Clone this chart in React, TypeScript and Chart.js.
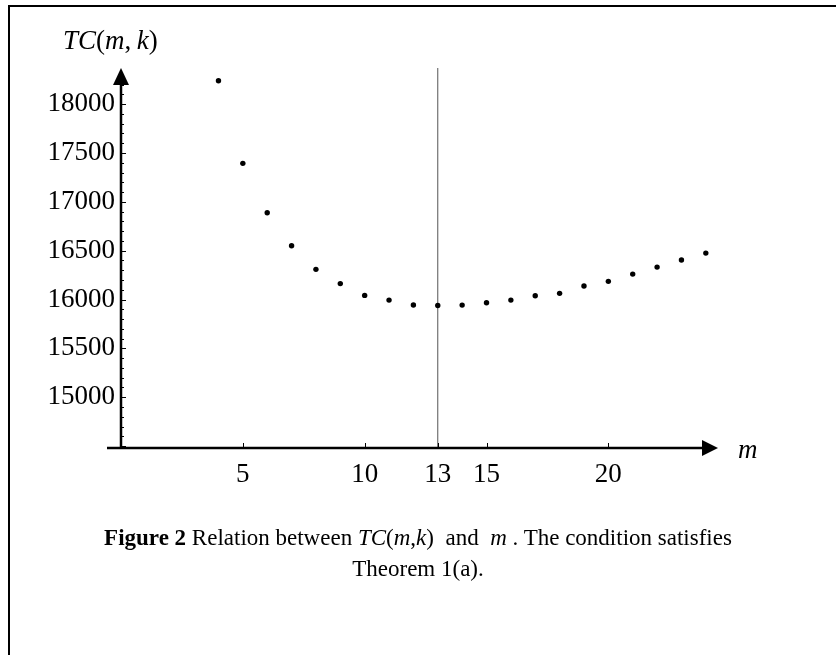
import React, { useEffect, useRef } from 'react';
import { Chart, registerables } from 'chart.js';

Chart.register(...registerables);

// ---- data ----
const mValues = [4, 5, 6, 7, 8, 9, 10, 11, 12, 13, 14, 15, 16, 17, 18, 19, 20, 21, 22, 23, 24];
const tcValues = [18239, 17394, 16888, 16550, 16309, 16163, 16042, 15994, 15944, 15938, 15943, 15967, 15994, 16038, 16063, 16138, 16186, 16260, 16332, 16404, 16475];
const xTickValues = [5, 10, 13, 15, 20];
const yTickValues = [15000, 15500, 16000, 16500, 17000, 17500, 18000];
const optimalM = 13;
const xRange = [0, 24.5];
const yRange = [14480, 18370];
const yMinorStep = 100;
const yMajorStep = 500;

const FONT = '"Liberation Serif", "Times New Roman", serif';

const axesPlugin = {
  id: 'mathAxes',
  afterDraw(chart: any) {
    const { ctx, chartArea } = chart;
    const { left, right, top, bottom } = chartArea;
    const xs = chart.scales.x;
    const ys = chart.scales.y;
    const x0 = xs.getPixelForValue(0);
    ctx.save();
    ctx.strokeStyle = '#000';
    ctx.fillStyle = '#000';
    // minor / major ticks on y axis (inside)
    ctx.lineWidth = 1;
    ctx.beginPath();
    const start = Math.ceil(yRange[0] / yMinorStep) * yMinorStep;
    for (let v = start; v <= yRange[1] - 20; v += yMinorStep) {
      const py = Math.round(ys.getPixelForValue(v)) + 0.5;
      const len = v % yMajorStep === 0 ? 5 : 3;
      ctx.moveTo(x0, py);
      ctx.lineTo(x0 + len, py);
    }
    // ticks on x axis (inside)
    xTickValues.forEach((v) => {
      const px = Math.round(xs.getPixelForValue(v)) + 0.5;
      ctx.moveTo(px, bottom);
      ctx.lineTo(px, bottom - 5);
    });
    ctx.stroke();
    // x axis line
    ctx.lineWidth = 2.5;
    ctx.beginPath();
    ctx.moveTo(left - 14, bottom);
    ctx.lineTo(right - 10, bottom);
    ctx.stroke();
    ctx.beginPath();
    ctx.moveTo(right, bottom);
    ctx.lineTo(right - 16, bottom - 8);
    ctx.lineTo(right - 16, bottom + 8);
    ctx.closePath();
    ctx.fill();
    // y axis line
    ctx.beginPath();
    ctx.moveTo(x0, bottom + 1);
    ctx.lineTo(x0, top + 10);
    ctx.stroke();
    ctx.beginPath();
    ctx.moveTo(x0, top);
    ctx.lineTo(x0 - 8, top + 17);
    ctx.lineTo(x0 + 8, top + 17);
    ctx.closePath();
    ctx.fill();
    ctx.restore();
  },
};

export default function App() {
  const ref = useRef<HTMLCanvasElement>(null);
  useEffect(() => {
    document.body.style.margin = '0';
    const canvas = ref.current!;
    const chart = new Chart(canvas, {
      type: 'scatter',
      data: {
        datasets: [
          {
            label: 'TC(m,k)',
            data: mValues.map((m, i) => ({ x: m, y: tcValues[i] })),
            backgroundColor: '#000',
            borderColor: '#000',
            pointRadius: 2.7,
            pointBorderWidth: 0,
            showLine: false,
            order: 0,
          },
          {
            label: 'm*',
            data: [
              { x: optimalM, y: yRange[0] },
              { x: optimalM, y: yRange[1] },
            ],
            showLine: true,
            borderColor: '#555',
            borderWidth: 1,
            pointRadius: 0,
            order: 1,
          } as any,
        ],
      },
      options: {
        animation: false,
        responsive: true,
        maintainAspectRatio: false,
        events: [],
        layout: { padding: { top: 68, right: 118, left: 0, bottom: 0 } },
        plugins: { legend: { display: false }, tooltip: { enabled: false }, title: { display: false } },
        scales: {
          x: {
            type: 'linear',
            min: xRange[0],
            max: xRange[1],
            grid: { display: false, drawTicks: false },
            border: { display: false },
            ticks: {
              color: '#000',
              font: { family: FONT, size: 27 },
              padding: 11,
              autoSkip: false,
              maxRotation: 0,
            },
            afterBuildTicks: (s: any) => {
              s.ticks = xTickValues.map((v) => ({ value: v }));
            },
            afterFit: (s: any) => {
              s.height = 207;
            },
          },
          y: {
            type: 'linear',
            min: yRange[0],
            max: yRange[1],
            grid: { display: false, drawTicks: false },
            border: { display: false },
            ticks: {
              color: '#000',
              font: { family: FONT, size: 27 },
              padding: 6,
              autoSkip: false,
              callback: (v: any) => String(v),
            },
            afterBuildTicks: (s: any) => {
              s.ticks = yTickValues.map((v) => ({ value: v }));
            },
            afterFit: (s: any) => {
              s.width = 121;
            },
          },
        },
      },
      plugins: [axesPlugin],
    });
    return () => chart.destroy();
  }, []);

  const serif: React.CSSProperties = { fontFamily: FONT, color: '#000' };
  return (
    <div style={{ position: 'absolute', left: 0, top: 0, width: 836, height: 655, background: '#fff', overflow: 'hidden' }}>
      <div style={{ position: 'absolute', left: 8, top: 5, width: 840, height: 660, borderTop: '2px solid #000', borderLeft: '2px solid #000' }} />
      <canvas ref={ref} style={{ position: 'absolute', left: 0, top: 0, width: 836, height: 655 }} />
      <div style={{ ...serif, position: 'absolute', left: 63, top: 25, fontSize: 27, lineHeight: '30px', whiteSpace: 'nowrap' }}>
        <i>TC</i>(<i>m</i>,&thinsp;<i>k</i>)
      </div>
      <div style={{ ...serif, position: 'absolute', left: 738, top: 434, fontSize: 27, lineHeight: '30px' }}>
        <i>m</i>
      </div>
      <div style={{ ...serif, position: 'absolute', left: 0, top: 522, width: 836, textAlign: 'center', fontSize: 23, lineHeight: '31px' }}>
        <b>Figure 2</b> Relation between <i>TC</i>(<i>m</i>,<i>k</i>)&nbsp; and &nbsp;<i>m</i> . The condition satisfies
        <br />
        Theorem 1(a).
      </div>
    </div>
  );
}
